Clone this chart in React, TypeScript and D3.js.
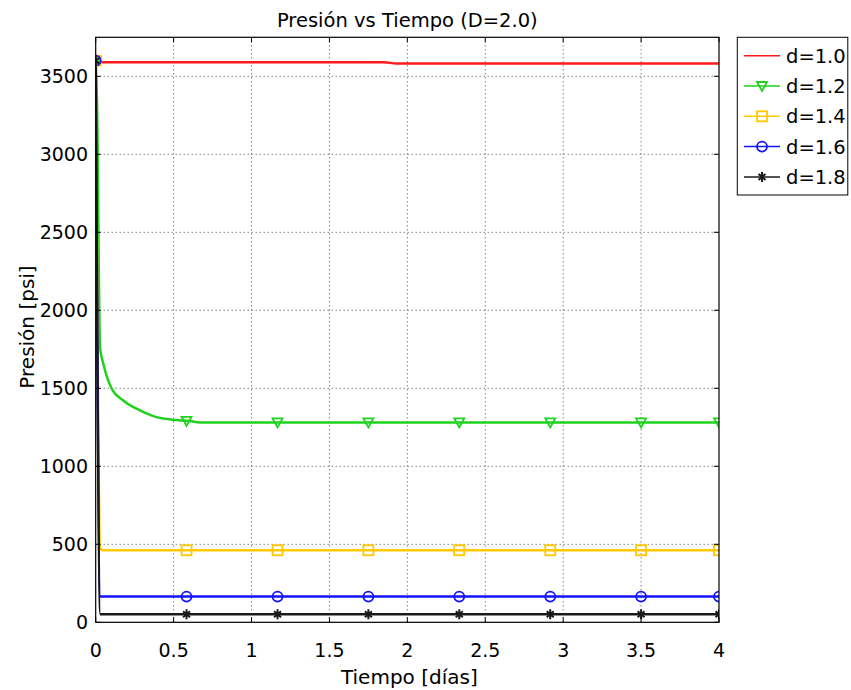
import React from "react";
import * as d3 from "d3";

const W = 851, H = 690;
const M = { left: 95.7, right: 719, top: 37.3, bottom: 622.3 };

const xTicks = [0, 0.5, 1, 1.5, 2, 2.5, 3, 3.5, 4];
const xTickLabels = ["0", "0.5", "1", "1.5", "2", "2.5", "3", "3.5", "4"];
const yTicks = [0, 500, 1000, 1500, 2000, 2500, 3000, 3500];

const redT = [0, 1.85, 1.93, 4];
const redP = [3590, 3590, 3582, 3582];
const greenT = [0, 0.008, 0.028, 0.049, 0.103, 0.177, 0.284, 0.39, 0.49, 0.605, 0.67, 4];
const greenP = [3600, 3350, 1760, 1657, 1497, 1422, 1358, 1315, 1299, 1290, 1281, 1281];
const yellowT = [0, 0.03, 0.05, 4];
const yellowP = [3600, 470, 462, 462];
const blueT = [0, 0.03, 4];
const blueP = [3600, 165, 165];
const blackT = [0, 0.03, 4];
const blackP = [3600, 52, 52];

const markerT = [0, 0.583, 1.167, 1.75, 2.333, 2.917, 3.5, 4.0];

const labels = ["d=1.0", "d=1.2", "d=1.4", "d=1.6", "d=1.8"];
const colors = ["#ff1a1a", "#1ed21e", "#ffc800", "#1414ff", "#1a1a1a"];
const markers = ["none", "triDown", "square", "circle", "star"];

const seriesT = [redT, greenT, yellowT, blueT, blackT];
const seriesP = [redP, greenP, yellowP, blueP, blackP];

const FONT = "DejaVu Sans, Verdana, sans-serif";

function interp(ts: number[], ps: number[], t: number) {
  for (let i = 0; i < ts.length - 1; i++) {
    if (t >= ts[i] && t <= ts[i + 1]) {
      const f = (t - ts[i]) / (ts[i + 1] - ts[i] || 1);
      return ps[i] + f * (ps[i + 1] - ps[i]);
    }
  }
  return ps[ps.length - 1];
}

function Marker({ type, x, y, color }: { type: string; x: number; y: number; color: string }) {
  const s = 5;
  const common = { fill: "none", stroke: color, strokeWidth: 1.8 };
  if (type === "triDown")
    return <path d={`M${x - s},${y - s * 0.8}L${x + s},${y - s * 0.8}L${x},${y + s}Z`} {...common} />;
  if (type === "square")
    return <rect x={x - s} y={y - s} width={2 * s} height={2 * s} {...common} />;
  if (type === "circle") return <circle cx={x} cy={y} r={s} {...common} />;
  if (type === "star")
    return (
      <path
        d={`M${x - s * 0.7},${y - s * 0.6}L${x + s * 0.7},${y + s * 0.6}M${x - s * 0.7},${y + s * 0.6}L${x + s * 0.7},${y - s * 0.6}M${x},${y - s}L${x},${y + s}`}
        {...common}
        strokeWidth={2}
      />
    );
  return null;
}

export default function App() {
  const x = d3.scaleLinear().domain([0, 4]).range([M.left, M.right]);
  const y = d3.scaleLinear().domain([0, 3750]).range([M.bottom, M.top]);
  const line = d3
    .line<[number, number]>()
    .x((d) => x(d[0]))
    .y((d) => y(d[1]))
    .curve(d3.curveMonotoneX);

  return (
    <svg width={W} height={H} style={{ position: "absolute", left: 0, top: 0, background: "#fff" }}>
      <defs>
        <clipPath id="plot">
          <rect x={M.left} y={M.top} width={M.right - M.left} height={M.bottom - M.top} />
        </clipPath>
      </defs>
      <rect x={0} y={0} width={W} height={H} fill="#fff" />
      {/* grid */}
      {xTicks.slice(1, -1).map((t) => (
        <line key={"gx" + t} x1={x(t)} x2={x(t)} y1={M.top} y2={M.bottom} stroke="#444" strokeWidth={1} strokeDasharray="1,3" />
      ))}
      {yTicks.slice(1).map((t) => (
        <line key={"gy" + t} x1={M.left} x2={M.right} y1={y(t)} y2={y(t)} stroke="#444" strokeWidth={1} strokeDasharray="1,3" />
      ))}
      {/* series */}
      <g clipPath="url(#plot)">
        {seriesT.map((ts, i) => (
          <path
            key={"s" + i}
            d={line(ts.map((t, j) => [t, seriesP[i][j]] as [number, number])) || ""}
            fill="none"
            stroke={colors[i]}
            strokeWidth={2.5}
            strokeLinejoin="round"
          />
        ))}
        {seriesT.map((ts, i) =>
          markers[i] === "none"
            ? null
            : markerT.map((t) => (
                <Marker key={"m" + i + "-" + t} type={markers[i]} x={x(t)} y={y(interp(ts, seriesP[i], t))} color={colors[i]} />
              ))
        )}
      </g>
      {/* frame */}
      <rect x={M.left} y={M.top} width={M.right - M.left} height={M.bottom - M.top} fill="none" stroke="#000" strokeWidth={1.2} />
      {/* ticks */}
      {xTicks.map((t) => (
        <g key={"tx" + t}>
          <line x1={x(t)} x2={x(t)} y1={M.bottom} y2={M.bottom - 5} stroke="#000" />
          <line x1={x(t)} x2={x(t)} y1={M.top} y2={M.top + 5} stroke="#000" />
        </g>
      ))}
      {yTicks.map((t) => (
        <g key={"ty" + t}>
          <line x1={M.left} x2={M.left + 5} y1={y(t)} y2={y(t)} stroke="#000" />
          <line x1={M.right} x2={M.right - 5} y1={y(t)} y2={y(t)} stroke="#000" />
        </g>
      ))}
      {/* tick labels */}
      {xTicks.map((t, i) => (
        <text key={"lx" + t} x={x(t)} y={657} textAnchor="middle" fontFamily={FONT} fontSize={19} fill="#000">
          {xTickLabels[i]}
        </text>
      ))}
      {yTicks.map((t) => (
        <text key={"ly" + t} x={88} y={y(t) + 7} textAnchor="end" fontFamily={FONT} fontSize={19} fill="#000">
          {t}
        </text>
      ))}
      {/* axis labels */}
      <text x={(M.left + M.right) / 2 + 2} y={684} textAnchor="middle" fontFamily={FONT} fontSize={20} fill="#000">
        Tiempo [días]
      </text>
      <text
        transform={`translate(34,327) rotate(-90)`}
        textAnchor="middle"
        fontFamily={FONT}
        fontSize={20}
        fill="#000"
      >
        Presión [psi]
      </text>
      <text x={(M.left + M.right) / 2} y={27} textAnchor="middle" fontFamily={FONT} fontSize={19.5} fill="#000">
        Presión vs Tiempo (D=2.0)
      </text>
      {/* legend */}
      <rect x={737.3} y={37.3} width={110.5} height={157.7} fill="#fff" stroke="#000" strokeWidth={1} />
      {labels.map((lab, i) => {
        const ly = 55.7 + i * 30.3;
        return (
          <g key={"lg" + i}>
            <line x1={744} x2={780} y1={ly} y2={ly} stroke={colors[i]} strokeWidth={1.5} />
            <Marker type={markers[i]} x={762} y={ly} color={colors[i]} />
            <text x={786} y={ly + 7} fontFamily={FONT} fontSize={19.5} fill="#000">
              {lab}
            </text>
          </g>
        );
      })}
    </svg>
  );
}
